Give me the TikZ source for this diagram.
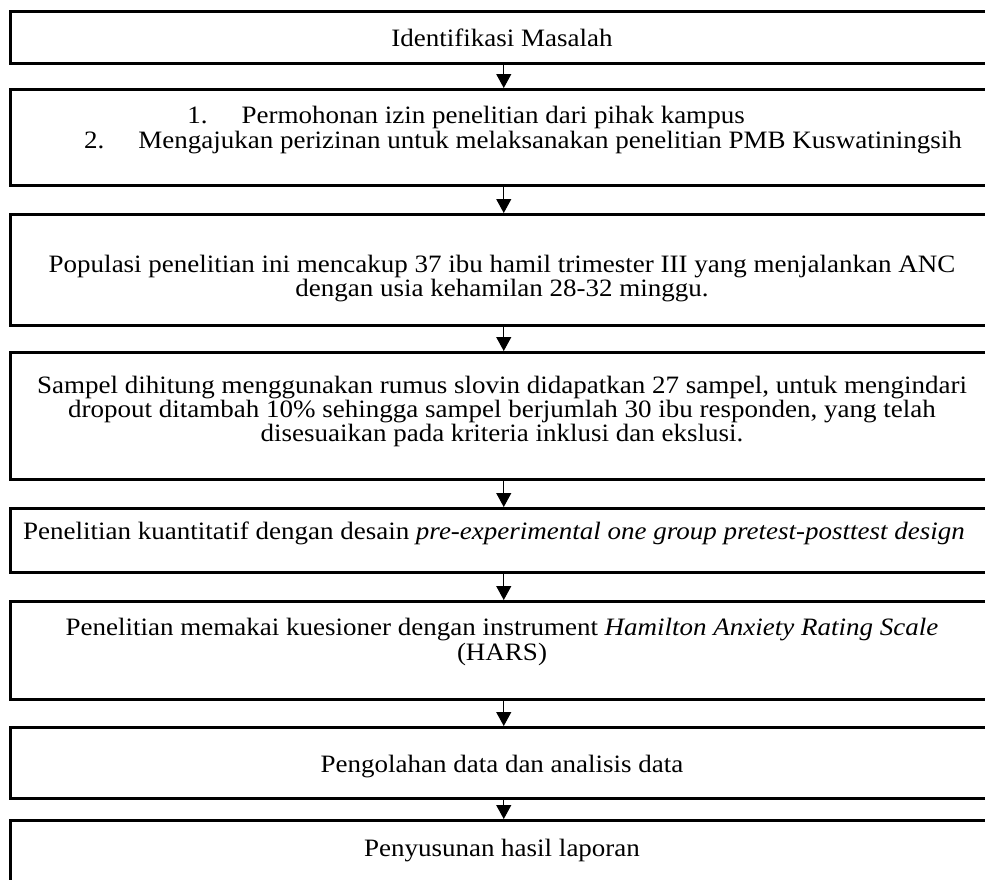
\documentclass[tikz,border=0pt]{standalone}
\usepackage{fontspec}
\setmainfont{Liberation Serif}[FakeStretch=1.08]
\usetikzlibrary{arrows.meta}
\begin{document}
\begin{tikzpicture}[x=1pt,y=-1pt,
  box/.style={draw=black,line width=2.5pt,minimum width=987pt,inner sep=0pt,anchor=north west},
  txt/.style={anchor=base,inner sep=0pt,font=\fontsize{25}{24.5}\selectfont},
  arr/.style={line width=1.1pt,-{Triangle[length=14pt,width=15pt]}}]
\useasboundingbox (0,0) rectangle (985,879);
\clip (0,0) rectangle (985,879);
% boxes
\node[box,minimum height=52pt] (b1) at (9,10) {};
\node[box,minimum height=96pt] (b2) at (9,88) {};
\node[box,minimum height=111pt] (b3) at (9,213) {};
\node[box,minimum height=127pt] (b4) at (9,351) {};
\node[box,minimum height=64pt] (b5) at (9,507) {};
\node[box,minimum height=98pt] (b6) at (9,600) {};
\node[box,minimum height=71pt] (b7) at (9,726) {};
\node[box,minimum height=90pt] (b8) at (9,819) {};
% texts
\node[txt] (t1) at (502,46) {Identifikasi Masalah};
\node[txt] (t2a) at (466,123) {1.\hspace{34pt}Permohonan izin penelitian dari pihak kampus};
\node[txt] (t2b) at (523,148) {2.\hspace{34pt}Mengajukan perizinan untuk melaksanakan penelitian PMB Kuswatiningsih};
\node[txt] (t3a) at (502,272) {Populasi penelitian ini mencakup 37 ibu hamil trimester III yang menjalankan ANC};
\node[txt] (t3b) at (502,296) {dengan usia kehamilan 28-32 minggu.};
\node[txt] (t4a) at (502,393) {Sampel dihitung menggunakan rumus slovin didapatkan 27 sampel, untuk mengindari};
\node[txt] (t4b) at (502,417) {dropout ditambah 10\% sehingga sampel berjumlah 30 ibu responden, yang telah};
\node[txt] (t4c) at (502,441) {disesuaikan pada kriteria inklusi dan ekslusi.};
\node[txt] (t5) at (494,539) {Penelitian kuantitatif dengan desain \textit{pre-experimental one group pretest-posttest design}};
\node[txt] (t6a) at (502,635) {Penelitian memakai kuesioner dengan instrument \textit{Hamilton Anxiety Rating Scale}};
\node[txt] (t6b) at (502,660) {(HARS)};
\node[txt] (t7) at (502,772) {Pengolahan data dan analisis data};
\node[txt] (t8) at (502,856) {Penyusunan hasil laporan};
% arrows
\draw[arr] (b1.south) -- (b2.north);
\draw[arr] (b2.south) -- (b3.north);
\draw[arr] (b3.south) -- (b4.north);
\draw[arr] (b4.south) -- (b5.north);
\draw[arr] (b5.south) -- (b6.north);
\draw[arr] (b6.south) -- (b7.north);
\draw[arr] (b7.south) -- (b8.north);
\end{tikzpicture}
\end{document}
